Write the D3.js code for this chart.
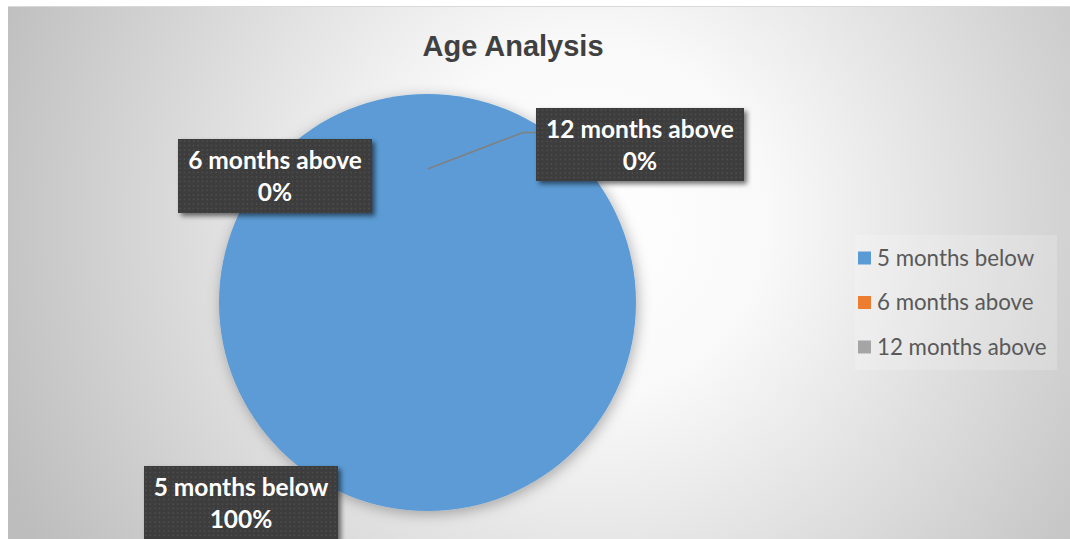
<!DOCTYPE html>
<html>
<head>
<meta charset="utf-8">
<script src="https://cdn.jsdelivr.net/npm/d3@7"></script>
<style>
  html, body { margin: 0; padding: 0; background: #ffffff; }
  svg { display: block; }
</style>
</head>
<body>
<svg id="chart" width="1070" height="539"></svg>
<script>
// Age buckets and their shares
const categories = ["5 months below", "6 months above", "12 months above"];
const values = [100, 0, 0];
const colors = ["#5B9BD5", "#ED7D31", "#A5A5A5"];
const chartTitle = "Age Analysis";

const W = 1070, H = 539;
const svg = d3.select("#chart");
const defs = svg.append("defs");

// Radial background of the chart area
const bg = defs.append("radialGradient")
  .attr("id", "bgGrad")
  .attr("gradientUnits", "userSpaceOnUse")
  .attr("cx", 590).attr("cy", 220).attr("r", 640);
bg.append("stop").attr("offset", 0).attr("stop-color", "#ffffff");
bg.append("stop").attr("offset", 0.28).attr("stop-color", "#f9f9f9");
bg.append("stop").attr("offset", 1).attr("stop-color", "#bdbdbd");

// Soft shadow under the pie
const pieShadow = defs.append("filter").attr("id", "pieShadow")
  .attr("x", "-20%").attr("y", "-20%").attr("width", "140%").attr("height", "140%");
pieShadow.append("feDropShadow")
  .attr("dx", 2).attr("dy", 3).attr("stdDeviation", 7)
  .attr("flood-color", "#000").attr("flood-opacity", 0.3);

// Shadow under the data-label boxes
const boxShadow = defs.append("filter").attr("id", "boxShadow")
  .attr("x", "-20%").attr("y", "-30%").attr("width", "140%").attr("height", "160%");
boxShadow.append("feDropShadow")
  .attr("dx", 3).attr("dy", 3).attr("stdDeviation", 2.5)
  .attr("flood-color", "#000").attr("flood-opacity", 0.55);

// Dotted dark fill for the data labels
const dots = defs.append("pattern").attr("id", "dots")
  .attr("patternUnits", "userSpaceOnUse")
  .attr("width", 4.5).attr("height", 4.5);
dots.append("rect").attr("width", 4.5).attr("height", 4.5).attr("fill", "#3d3d3d");
dots.append("rect").attr("x", 1.5).attr("y", 1.5).attr("width", 1.2).attr("height", 1.2)
  .attr("fill", "#5a5a5a");

// Chart area
svg.append("rect")
  .attr("x", 8).attr("y", 6).attr("width", W - 8).attr("height", H - 6)
  .attr("fill", "url(#bgGrad)");
svg.append("line")
  .attr("x1", 8).attr("x2", W).attr("y1", 6.5).attr("y2", 6.5)
  .attr("stroke", "#d9d9d9").attr("stroke-width", 1);

// Title
svg.append("text")
  .attr("x", 513).attr("y", 56)
  .attr("text-anchor", "middle")
  .attr("font-family", "'Liberation Sans', Arial, sans-serif")
  .attr("font-weight", "bold")
  .attr("font-size", 29)
  .attr("fill", "#404040")
  .text(chartTitle);

// Pie
const cx = 427.5, cy = 302.5, radius = 208.5;
const total = d3.sum(values);
const pct = d3.format(".0%");
const color = d3.scaleOrdinal().domain(categories).range(colors);

const pie = d3.pie().sort(null).value(d => d.value);
const data = categories.map((c, i) => ({ name: c, value: values[i] }));
const arcs = pie(data);
const arc = d3.arc().innerRadius(0).outerRadius(radius);

const g = svg.append("g").attr("transform", `translate(${cx},${cy})`);
g.append("g").attr("filter", "url(#pieShadow)")
  .selectAll("path")
  .data(arcs)
  .join("path")
  .attr("d", arc)
  .attr("fill", d => color(d.data.name));

// Data labels: box offsets (from the pie centre) per category
const labelLayout = [
  { dx: -283.5, dy: 163.5, w: 194, h: 74, leader: false },
  { dx: -249.5, dy: -163.5, w: 194, h: 74, leader: false },
  { dx: 108.5, dy: -194.5, w: 208, h: 73, leader: true }
];
const leaderArc = d3.arc().innerRadius(radius * 0.64).outerRadius(radius * 0.64);

arcs.forEach((a, i) => {
  const L = labelLayout[i];
  if (L.leader) {
    const p = leaderArc.centroid(a);
    const elbowX = L.dx - 13, elbowY = L.dy + 24.5;
    g.append("polyline")
      .attr("points", [[p[0], p[1]], [elbowX, elbowY], [L.dx, elbowY]].map(q => q.join(",")).join(" "))
      .attr("fill", "none")
      .attr("stroke", "#808080")
      .attr("stroke-width", 1.6);
  }
  const lg = g.append("g").attr("transform", `translate(${L.dx},${L.dy})`);
  lg.append("rect")
    .attr("width", L.w).attr("height", L.h)
    .attr("fill", "url(#dots)")
    .attr("filter", "url(#boxShadow)");
  const t = lg.append("text")
    .attr("text-anchor", "middle")
    .attr("font-family", "Lato, 'Open Sans', sans-serif")
    .attr("font-weight", "bold")
    .attr("font-size", 24.5)
    .attr("fill", "#ffffff");
  t.append("tspan").attr("x", L.w / 2).attr("y", 29.5).text(a.data.name);
  t.append("tspan").attr("x", L.w / 2).attr("y", 61.5).text(pct(a.data.value / total));
});

// Legend
const legend = svg.append("g").attr("transform", "translate(855,235)");
legend.append("rect")
  .attr("width", 202).attr("height", 135)
  .attr("fill", "#ffffff").attr("fill-opacity", 0.18);
const rows = legend.selectAll("g.row")
  .data(categories)
  .join("g")
  .attr("class", "row")
  .attr("transform", (d, i) => `translate(3,${23 + i * 44.5})`);
rows.append("rect")
  .attr("x", 0).attr("y", -6.5).attr("width", 13).attr("height", 13)
  .attr("fill", d => color(d));
rows.append("text")
  .attr("x", 19).attr("y", 0)
  .attr("dy", "0.35em")
  .attr("font-family", "Lato, 'Open Sans', sans-serif")
  .attr("font-size", 22.3)
  .attr("fill", "#595959")
  .text(d => d);
</script>
</body>
</html>
